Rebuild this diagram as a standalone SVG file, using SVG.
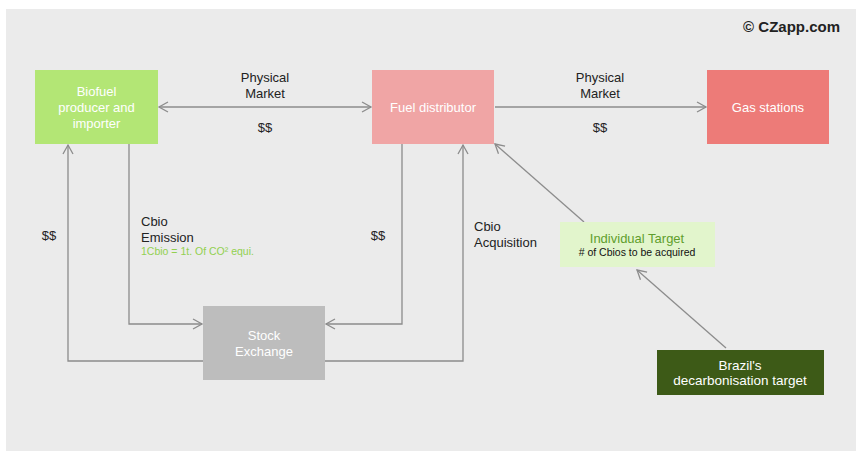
<svg xmlns="http://www.w3.org/2000/svg" width="862" height="460" viewBox="0 0 862 460">
<defs>
<style>
text{font-family:"Liberation Sans",Arial,sans-serif;font-size:13px;fill:#222}
.w{fill:#fff;text-anchor:middle}
.c{text-anchor:middle}
.ln{fill:none;stroke:#8c8c8c;stroke-width:1.3}
</style>
<marker id="ah" markerWidth="12" markerHeight="12" refX="10" refY="6" orient="auto-start-reverse" markerUnits="userSpaceOnUse">
<path d="M1,1 L10,6 L1,11" fill="none" stroke="#8c8c8c" stroke-width="1.3"/>
</marker>
</defs>
<rect x="0" y="0" width="862" height="460" fill="#fff"/>
<rect x="6" y="9" width="850" height="442" fill="#ebebeb"/>
<text x="840" y="32" style="font-weight:bold;font-size:15px;text-anchor:end">© CZapp.com</text>

<g id="connectors">
<line class="ln" x1="159" y1="107" x2="371" y2="107" marker-start="url(#ah)" marker-end="url(#ah)"/>
<line class="ln" x1="495" y1="107" x2="706" y2="107" marker-end="url(#ah)"/>
<polyline class="ln" points="203,361 68,361 68,145" marker-end="url(#ah)"/>
<polyline class="ln" points="129,144 129,324 202,324" marker-end="url(#ah)"/>
<polyline class="ln" points="402,144 402,324 326,324" marker-end="url(#ah)"/>
<polyline class="ln" points="325,361 463,361 463,145" marker-end="url(#ah)"/>
<line class="ln" x1="584" y1="222" x2="495" y2="144" marker-end="url(#ah)"/>
<line class="ln" x1="726" y1="348" x2="637" y2="270" marker-end="url(#ah)"/>
</g>

<g id="biofuel">
<rect x="35" y="70" width="123" height="74" fill="#b3e675"/>
<text class="w" x="96.5" y="96">Biofuel</text>
<text class="w" x="96.5" y="112">producer and</text>
<text class="w" x="96.5" y="128">importer</text>
</g>
<g id="distributor">
<rect x="372" y="70" width="122" height="74" fill="#f0a5a5"/>
<text class="w" x="433" y="112">Fuel distributor</text>
</g>
<g id="gas">
<rect x="707" y="70" width="122" height="74" fill="#ed7b78"/>
<text class="w" x="768" y="112">Gas stations</text>
</g>
<g id="stock">
<rect x="203" y="306" width="122" height="74" fill="#bdbdbd"/>
<text class="w" x="264" y="340">Stock</text>
<text class="w" x="264" y="356">Exchange</text>
</g>
<g id="individual">
<rect x="560" y="222" width="155" height="45" fill="#e2f5cc"/>
<text class="c" x="637" y="243" style="fill:#5f9e2c">Individual Target</text>
<text class="c" x="637" y="256" style="font-size:10.5px;fill:#111"># of Cbios to be acquired</text>
</g>
<g id="brazil">
<rect x="657" y="350" width="167" height="45" fill="#3d5a17"/>
<text class="w" x="740" y="370" style="font-size:13.5px">Brazil's</text>
<text class="w" x="740" y="385" style="font-size:13.5px">decarbonisation target</text>
</g>

<g id="labels">
<text class="c" x="265" y="82">Physical</text>
<text class="c" x="265" y="98">Market</text>
<text class="c" x="265" y="132">$$</text>
<text class="c" x="600" y="82">Physical</text>
<text class="c" x="600" y="98">Market</text>
<text class="c" x="600" y="132">$$</text>
<text class="c" x="49" y="240">$$</text>
<text class="c" x="378" y="240">$$</text>
<text x="141" y="226">Cbio</text>
<text x="141" y="242">Emission</text>
<text x="141" y="255" style="font-size:10.5px;fill:#92d050">1Cbio = 1t. Of CO² equi.</text>
<text x="474" y="231">Cbio</text>
<text x="474" y="247">Acquisition</text>
</g>
</svg>
